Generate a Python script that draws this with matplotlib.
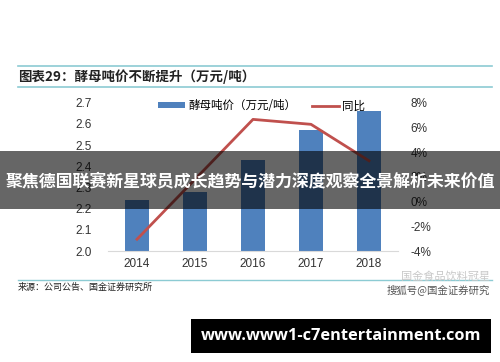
import matplotlib
matplotlib.use("Agg")
import matplotlib.pyplot as plt
from matplotlib.patches import Rectangle
from matplotlib.lines import Line2D

plt.rcParams['font.family'] = ['Noto Sans CJK SC', 'DejaVu Sans']

years = ["2014", "2015", "2016", "2017", "2018"]
price = [2.24, 2.28, 2.43, 2.57, 2.66]
yoy = [-3.05, 1.8, 6.65, 6.25, 3.3]
left_ticks = [2.0, 2.1, 2.2, 2.3, 2.4, 2.5, 2.6, 2.7]
right_ticks = [-4, -2, 0, 2, 4, 6, 8]

W, H = 500, 362
fig = plt.figure(figsize=(5.0, 3.62), dpi=100)

def fx(px):
    return px / W

def fy(py):
    return 1 - py / H

ax = fig.add_axes([fx(108), fy(251), fx(398) - fx(108), fy(102.7) - fy(251)])
x = list(range(len(years)))
bars = ax.bar(x, price, width=0.4, color="#4F81BD", zorder=2, label="酵母吨价（万元/吨）")
ax.set_xlim(-0.5, 4.5)
ax.set_ylim(2.0, 2.7)
ax.set_yticks(left_ticks)
ax.set_yticklabels([f"{v:.1f}" for v in left_ticks])
ax.set_xticks(x)
ax.set_xticklabels(years)
for s in ["top", "right", "left"]:
    ax.spines[s].set_visible(False)
ax.spines["bottom"].set_color("#D9D9D9")
ax.tick_params(axis="both", length=0, labelsize=8.5, colors="#333333", labelfontfamily="Liberation Sans")
ax.tick_params(axis="y", pad=12)
ax.tick_params(axis="x", pad=5)

ax2 = ax.twinx()
line, = ax2.plot(x, yoy, color="#C0504D", lw=2, zorder=3, label="同比")
ax2.set_ylim(-4, 8)
ax2.set_yticks(right_ticks)
ax2.set_yticklabels([f"{v}%" for v in right_ticks])
for s in ["top", "right", "left", "bottom"]:
    ax2.spines[s].set_visible(False)
ax2.tick_params(axis="y", length=0, labelsize=8.5, colors="#333333", pad=9, labelfontfamily="Liberation Sans")

# legend
leg = fig.legend(handles=[bars, line], loc="center left", bbox_to_anchor=(fx(148), fy(106)),
                 ncol=2, frameon=False, fontsize=8.3, handlelength=2.3, handleheight=0.45,
                 columnspacing=1.4, handletextpad=0.3)

# title rules and title
teal = "#8CCBD3"
fig.add_artist(Line2D([fx(18), fx(492)], [fy(66), fy(66)], color=teal, lw=1.2))
fig.add_artist(Line2D([fx(18), fx(492)], [fy(87), fy(87)], color=teal, lw=1.2))
fig.text(fx(18), fy(76.5), "图表29：酵母吨价不断提升（万元/吨）", fontsize=9.7, fontweight="bold",
         color="#222222", va="center", ha="left")

# source
fig.add_artist(Line2D([fx(18), fx(492)], [fy(280), fy(280)], color=teal, lw=1.0))
fig.text(fx(18), fy(287.5), "来源：公司公告、国金证券研究所", fontsize=6.5, color="#222222", va="center", ha="left")
fig.text(fx(490), fy(277), "国金食品饮料冠星", fontsize=8, color="#C8C8C8", va="center", ha="right")
fig.text(fx(490), fy(290), "搜狐号@国金证券研究", fontsize=7.5, color="#555555", va="center", ha="right")

# overlay banner
fig.add_artist(Rectangle((0, fy(209)), 1, fy(151) - fy(209), transform=fig.transFigure,
                         facecolor="black", alpha=0.6, edgecolor="none", zorder=10))
fig.text(0.5, fy(181), "聚焦德国联赛新星球员成长趋势与潜力深度观察全景解析未来价值", fontsize=12.2,
         fontweight="bold", color="white", va="center", ha="center", zorder=11)

# bottom url box
fig.add_artist(Rectangle((fx(191), fy(353)), fx(491) - fx(191), fy(319) - fy(353),
                         transform=fig.transFigure, facecolor="black", edgecolor="none", zorder=10))
fig.text(fx(341), fy(336), "www.www1-c7entertainment.com", fontsize=11.8, fontweight="bold",
         color="white", va="center", ha="center", zorder=11, family="Open Sans")

fig.savefig("out.png", dpi=100)
